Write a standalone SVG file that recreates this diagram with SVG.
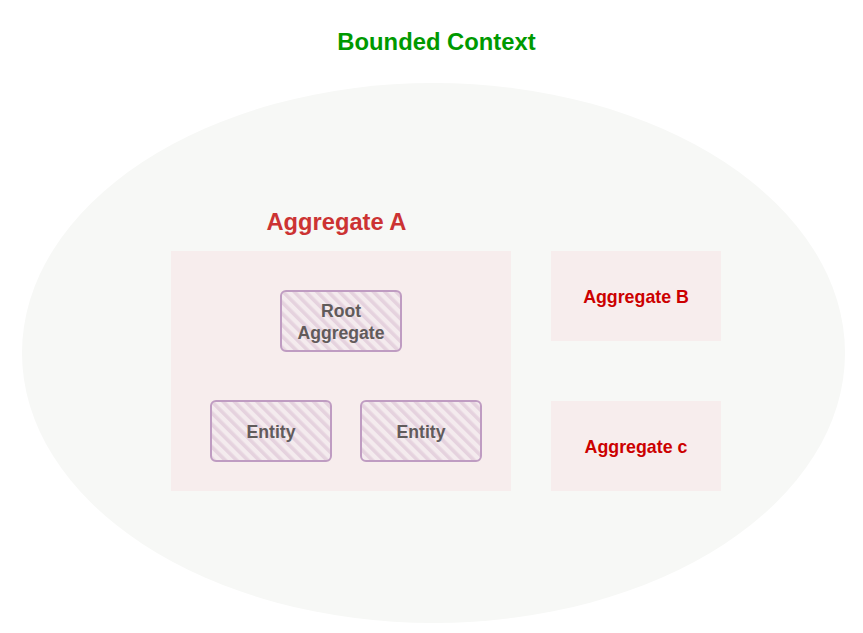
<svg xmlns="http://www.w3.org/2000/svg" width="863" height="633" viewBox="0 0 863 633">
<style>
.t{font-family:"Liberation Sans",Arial,Helvetica,sans-serif;font-weight:bold;text-anchor:middle}
.area{fill:#f7eded}
.hb{fill:url(#hatch);stroke:#bf9cc2;stroke-width:2}
.lbl{fill:#615b5b;font-size:17.6px}
.agg{fill:#cc0000;font-size:17.8px}
</style>
<defs>
<pattern id="hatch" patternUnits="userSpaceOnUse" width="8" height="8" patternTransform="rotate(-45)">
<rect width="8" height="8" fill="#f4ebee"/>
<rect x="0" y="0" width="3.6" height="8" fill="#e5d2de"/>
</pattern>
</defs>
<rect width="863" height="633" fill="#ffffff"/>
<g id="bounded-context">
<ellipse cx="433.5" cy="353" rx="411.5" ry="270" fill="#f7f8f6"/>
<text class="t" x="436.5" y="50" font-size="23.8" fill="#009900">Bounded Context</text>
</g>
<g id="aggregate-a">
<rect class="area" x="171" y="251" width="340" height="240"/>
<text class="t" x="336.5" y="230" font-size="23.7" fill="#cc3333">Aggregate A</text>
</g>
<g id="root-aggregate">
<rect class="hb" x="281" y="291" width="120" height="60" rx="5"/>
<text class="t lbl" x="341" y="317">Root</text>
<text class="t lbl" x="341" y="339">Aggregate</text>
</g>
<g id="entity-1">
<rect class="hb" x="211" y="401" width="120" height="60" rx="5"/>
<text class="t lbl" x="271" y="438">Entity</text>
</g>
<g id="entity-2">
<rect class="hb" x="361" y="401" width="120" height="60" rx="5"/>
<text class="t lbl" x="421" y="438">Entity</text>
</g>
<g id="aggregate-b">
<rect class="area" x="551" y="251" width="170" height="90"/>
<text class="t agg" x="636" y="303">Aggregate B</text>
</g>
<g id="aggregate-c">
<rect class="area" x="551" y="401" width="170" height="90"/>
<text class="t agg" x="636" y="453">Aggregate c</text>
</g>
<g id="connectors"></g>
</svg>
